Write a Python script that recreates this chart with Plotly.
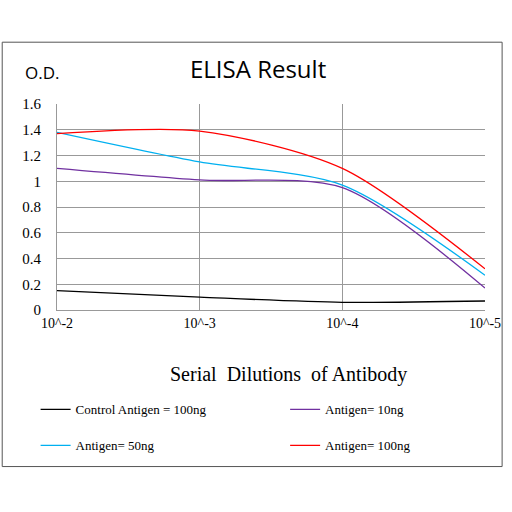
import plotly.graph_objects as go

x_pos = [0, 1, 2, 3]
x_labels = ["10^-2", "10^-3", "10^-4", "10^-5"]
control = [0.15, 0.10, 0.06, 0.07]
antigen_10 = [1.10, 1.01, 0.95, 0.17]
antigen_50 = [1.38, 1.15, 0.97, 0.27]
antigen_100 = [1.37, 1.39, 1.10, 0.32]

series = [
    ("Control Antigen = 100ng", control, "#000000", "legend"),
    ("Antigen= 10ng", antigen_10, "#7030a0", "legend2"),
    ("Antigen= 50ng", antigen_50, "#00b0f0", "legend"),
    ("Antigen= 100ng", antigen_100, "#ff0000", "legend2"),
]

fig = go.Figure()
for name, ys, color, leg in series:
    fig.add_trace(go.Scatter(x=x_pos, y=ys, name=name, mode="lines", legend=leg,
                             legendgroup=name,
                             line=dict(color=color, width=1.3, shape="spline", smoothing=0.8)))

serif = "Liberation Serif"
leg_font = dict(family=serif, size=13, color="#000")
fig.update_layout(
    width=512, height=512, paper_bgcolor="white", plot_bgcolor="white",
    margin=dict(l=57, r=27, t=104, b=202, autoexpand=False),
    showlegend=True,
    legend=dict(x=-0.05, y=-0.41, xanchor="left", yanchor="top",
                tracegroupgap=16, font=leg_font, bgcolor="rgba(0,0,0,0)"),
    legend2=dict(x=0.533, y=-0.41, xanchor="left", yanchor="top",
                 tracegroupgap=16, font=leg_font, bgcolor="rgba(0,0,0,0)"),
    xaxis=dict(tickvals=x_pos, ticktext=x_labels, range=[0, 3], showgrid=True,
               gridcolor="#999", showline=True, linecolor="#999", automargin=False,
               tickfont=dict(family=serif, size=14, color="#000"), ticks=""),
    yaxis=dict(range=[0, 1.6], dtick=0.2, tickformat="~g", showgrid=True,
               gridcolor="#999", showline=True, linecolor="#999", zeroline=False,
               automargin=False, ticklabelstandoff=12,
               tickfont=dict(family=serif, size=15, color="#000"), ticks=""),
    shapes=[dict(type="rect", xref="paper", yref="paper", x0=-0.128, x1=1.04,
                 y0=-0.76, y1=1.3, line=dict(color="#555", width=1))],
    annotations=[
        dict(text="ELISA Result", xref="paper", yref="paper", x=0.47, y=1.26,
             showarrow=False, font=dict(family="Open Sans", size=24, color="#000")),
        dict(text="O.D.", xref="paper", yref="paper", x=-0.08, y=1.22,
             showarrow=False, font=dict(family="Open Sans", size=17, color="#000")),
        dict(text="Serial  Dilutions  of Antibody", xref="paper", yref="paper",
             x=0.54, y=-0.38, showarrow=False,
             font=dict(family=serif, size=20, color="#000")),
    ],
)

fig.write_html("out.html", config={"displayModeBar": False},
               post_script="document.body.style.margin='0';")
